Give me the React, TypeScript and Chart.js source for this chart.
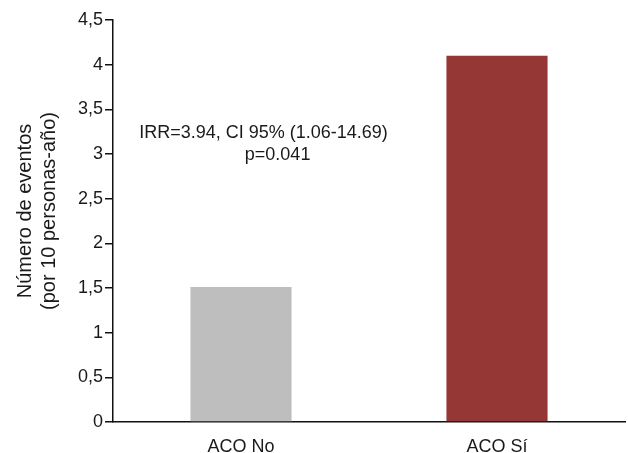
import React, { useEffect, useRef } from "react";
import { Chart, registerables } from "chart.js";

Chart.register(...registerables);

const categories = ["ACO No", "ACO Sí"];
const eventRates = [1.51, 4.1];
const barColors = ["#bebebe", "#943735"];
const yTickMin = 0;
const yTickMax = 4.5;
const yTickStep = 0.5;
const yTitleLines = ["Número de eventos", "(por 10 personas-año)"];
const annotationLines = ["IRR=3.94, CI 95% (1.06-14.69)", "p=0.041"];
// annotation anchors in data coordinates: [category index (fractional), y value]
const annotationX = [0.088, 0.143];
const annotationY = [3.18, 2.93];

const FONT = "'Liberation Sans', Arial, Helvetica, sans-serif";
const TEXT = "#1a1a1a";

const annotationPlugin = {
  id: "annotationText",
  afterDatasetsDraw(chart: any) {
    const { ctx, scales, chartArea } = chart;
    ctx.save();
    ctx.fillStyle = TEXT;
    ctx.font = `18px ${FONT}`;
    ctx.textAlign = "center";
    ctx.textBaseline = "alphabetic";
    annotationLines.forEach((line, i) => {
      const x = scales.x.getPixelForValue(annotationX[i]);
      const y = scales.y.getPixelForValue(annotationY[i]);
      ctx.fillText(line, x, y);
    });
    // y-axis title (two rotated lines)
    const cy = (chartArea.top + chartArea.bottom) / 2 - 10;
    ctx.font = `20px ${FONT}`;
    ctx.textBaseline = "middle";
    yTitleLines.forEach((line, i) => {
      ctx.save();
      ctx.translate(25 + i * 24, cy);
      ctx.rotate(-Math.PI / 2);
      ctx.fillText(line, 0, 0);
      ctx.restore();
    });
    ctx.restore();
  },
};

export default function App() {
  const canvasRef = useRef<HTMLCanvasElement | null>(null);

  useEffect(() => {
    if (!canvasRef.current) return;
    const chart = new Chart(canvasRef.current, {
      type: "bar",
      data: {
        labels: categories,
        datasets: [
          {
            data: eventRates,
            backgroundColor: barColors,
            borderWidth: 0,
            barPercentage: 0.395,
            categoryPercentage: 1,
          },
        ],
      },
      options: {
        responsive: false,
        animation: false,
        layout: { padding: { top: 20, right: 3, left: 0, bottom: 0 } },
        plugins: {
          legend: { display: false },
          tooltip: { enabled: false },
        },
        scales: {
          x: {
            grid: { display: false, drawTicks: false },
            border: { display: true, color: "#111", width: 1.5 },
            ticks: {
              color: TEXT,
              font: { family: FONT, size: 18 },
              padding: 14,
            },
            afterFit(scale: any) {
              scale.height = 31;
            },
          },
          y: {
            min: yTickMin,
            max: yTickMax,
            grid: {
              display: true,
              drawOnChartArea: false,
              drawTicks: true,
              tickLength: 8,
              color: "#111",
              lineWidth: 1.5,
            },
            border: { display: true, color: "#111", width: 1.5 },
            ticks: {
              stepSize: yTickStep,
              color: TEXT,
              font: { family: FONT, size: 18 },
              padding: 2,
              callback: (v: any) => String(Number(v)).replace(".", ","),
            },
            title: { display: false },
            afterFit(scale: any) {
              scale.width = 113;
            },
          },
        },
      },
      plugins: [annotationPlugin],
    });
    return () => chart.destroy();
  }, []);

  return (
    <div style={{ position: "absolute", left: 0, top: 0, width: 628, height: 453, background: "#fff" }}>
      <canvas ref={canvasRef} width={628} height={453} />
    </div>
  );
}
